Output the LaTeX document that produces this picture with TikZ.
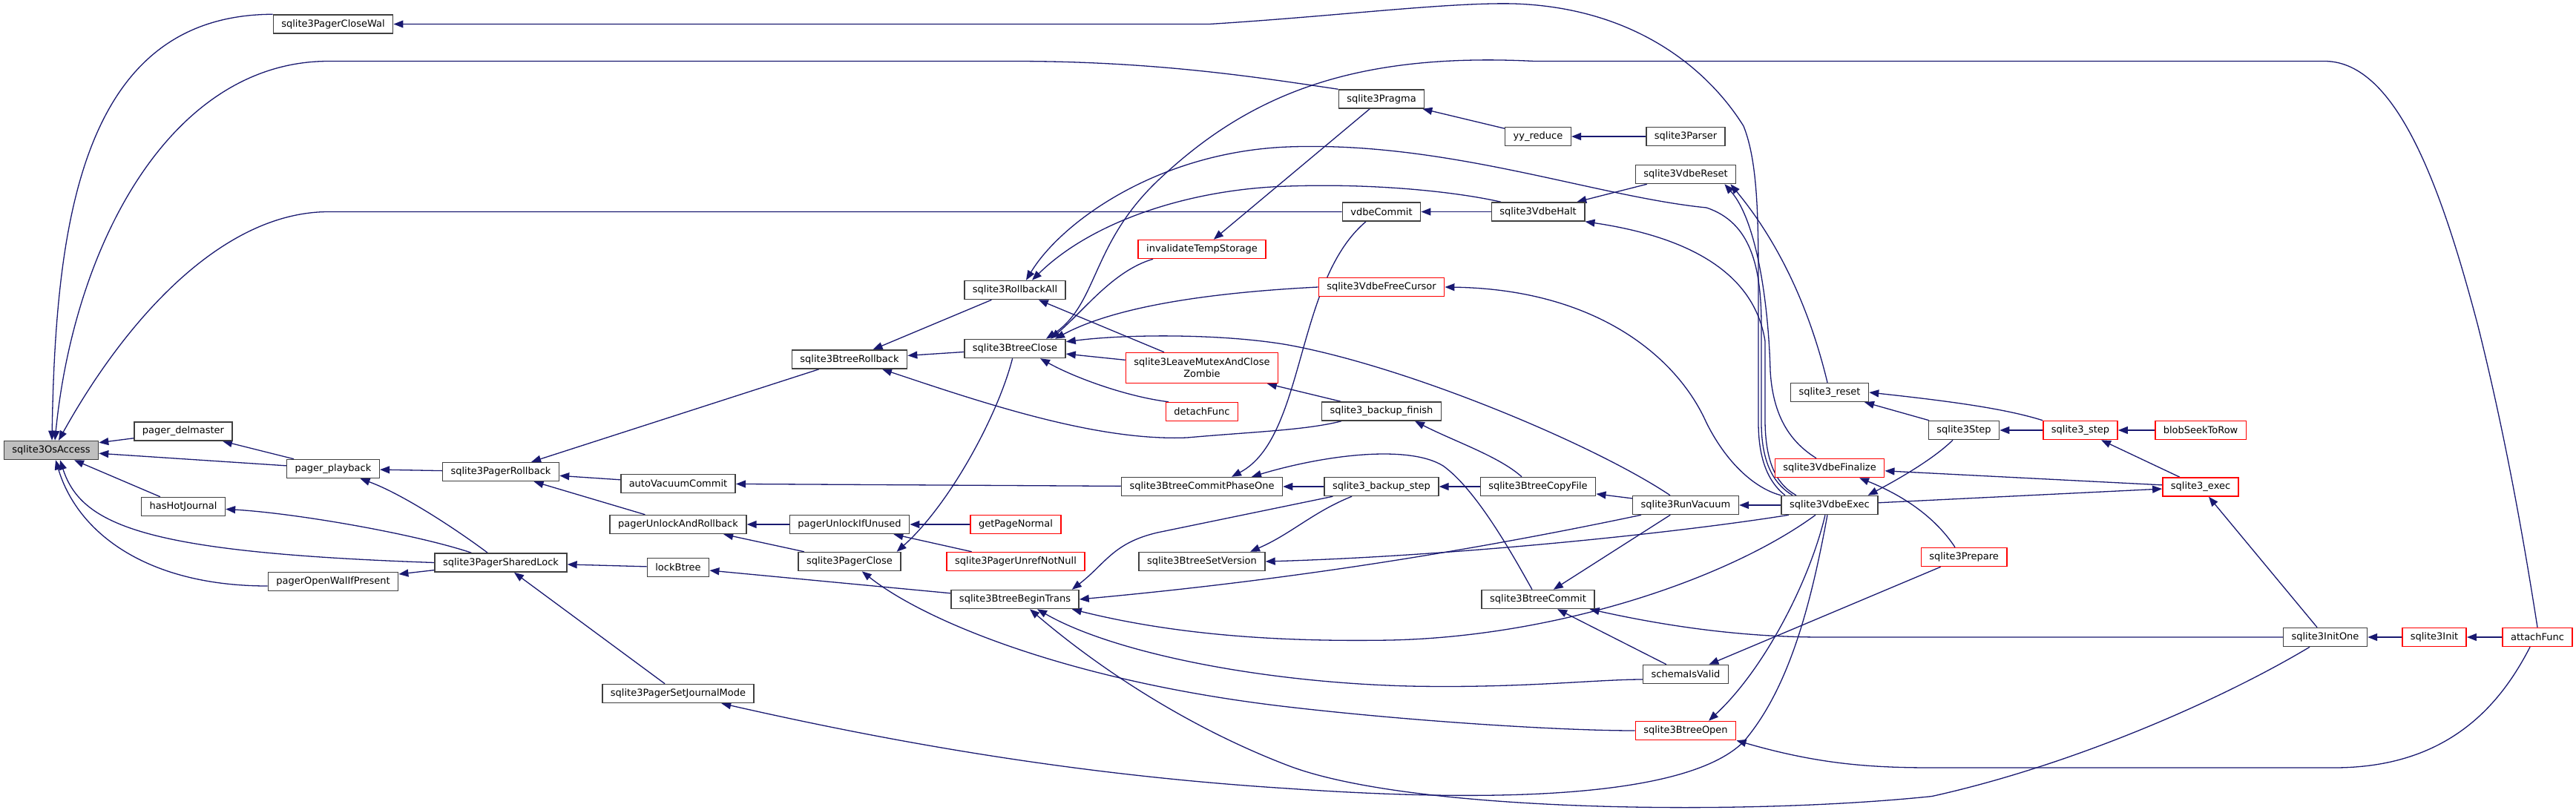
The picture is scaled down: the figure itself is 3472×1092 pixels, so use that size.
\documentclass[tikz,border=0pt]{standalone}
\usepackage{fontspec}
\setmainfont{DejaVu Sans}
\usetikzlibrary{arrows.meta,backgrounds}
\usepackage{xcolor}
\definecolor{edgeblue}{HTML}{191970}
\definecolor{rootgray}{HTML}{BFBFBF}

\begin{document}
\begin{tikzpicture}[x=1pt, y=-1pt]
  \tikzstyle{fn} = [rectangle, draw=black!75, line width=1.5pt, fill=white, minimum height=25pt, inner xsep=11pt, inner ysep=2pt, font=\fontsize{13}{16}\selectfont]
  \tikzstyle{fnred} = [fn, draw=red]
  \tikzstyle{root} = [fn, fill=rootgray]
  \tikzstyle{calls} = [draw=edgeblue, line width=1.3pt, {Triangle[length=13pt,width=10pt]}-]

  \useasboundingbox (0,0) rectangle (3472,1092);

  \node[root] (osaccess) at (69,607) {sqlite3OsAccess};
  \node[fn] (closewal) at (449,32.5) {sqlite3PagerCloseWal};
  \node[fn] (delmaster) at (247,581.5) {pager\_delmaster};
  \node[fn] (playback) at (449,632) {pager\_playback};
  \node[fn] (hothj) at (247,683) {hasHotJournal};
  \node[fn] (openwal) at (449,784) {pagerOpenWalIfPresent};
  \node[fn] (pgrollback) at (675,636) {sqlite3PagerRollback};
  \node[fn] (sharedlock) at (675,758.5) {sqlite3PagerSharedLock};
  \node[fn] (journalmode) at (914,935) {sqlite3PagerSetJournalMode};
  \node[fn] (autovac) at (914,652) {autoVacuumCommit};
  \node[fn] (unlockrb) at (914,707) {pagerUnlockAndRollback};
  \node[fn] (lockbtree) at (914,765) {lockBtree};
  \node[fn] (btrollback) at (1145,484.5) {sqlite3BtreeRollback};
  \node[fn] (unlockunused) at (1145,707) {pagerUnlockIfUnused};
  \node[fn] (pagerclose) at (1145,757) {sqlite3PagerClose};
  \node[fn] (rollbackall) at (1368,391) {sqlite3RollbackAll};
  \node[fn] (btclose) at (1368,470) {sqlite3BtreeClose};
  \node[fnred] (getpage) at (1369,707) {getPageNormal};
  \node[fnred] (unref) at (1369,757) {sqlite3PagerUnrefNotNull};
  \node[fn] (begintrans) at (1368,808) {sqlite3BtreeBeginTrans};
  \node[fnred] (invtemp) at (1620,336) {invalidateTempStorage};
  \node[fnred, minimum height=41pt, align=center] (zombie) at (1620,496) {sqlite3LeaveMutexAndClose\\Zombie};
  \node[fnred] (detach) at (1620,555) {detachFunc};
  \node[fn] (phaseone) at (1620,656) {sqlite3BtreeCommitPhaseOne};
  \node[fn] (setversion) at (1620,757) {sqlite3BtreeSetVersion};
  \node[fn] (pragma) at (1862,133.5) {sqlite3Pragma};
  \node[fn] (vdbecommit) at (1862,285.5) {vdbeCommit};
  \node[fnred] (freecursor) at (1862,387) {sqlite3VdbeFreeCursor};
  \node[fn] (bkfinish) at (1862,554.5) {sqlite3\_backup\_finish};
  \node[fn] (bkstep) at (1862,656) {sqlite3\_backup\_step};
  \node[fn] (yyreduce) at (2073,184) {yy\_reduce};
  \node[fn] (vdbehalt) at (2073,285.5) {sqlite3VdbeHalt};
  \node[fn] (copyfile) at (2073,656) {sqlite3BtreeCopyFile};
  \node[fn] (btcommit) at (2073,808) {sqlite3BtreeCommit};
  \node[fn] (parser) at (2272,184) {sqlite3Parser};
  \node[fn] (vdbereset) at (2272,235) {sqlite3VdbeReset};
  \node[fn] (runvacuum) at (2272,681) {sqlite3RunVacuum};
  \node[fn] (schemavalid) at (2272,909) {schemaIsValid};
  \node[fnred] (btopen) at (2272,985) {sqlite3BtreeOpen};
  \node[fn] (reset) at (2466,529) {sqlite3\_reset};
  \node[fnred] (finalize) at (2466,631) {sqlite3VdbeFinalize};
  \node[fn] (vdbeexec) at (2466,681) {sqlite3VdbeExec};
  \node[fn] (step3) at (2647,580) {sqlite3Step};
  \node[fnred] (prepare) at (2647,751) {sqlite3Prepare};
  \node[fnred] (step) at (2804,580) {sqlite3\_step};
  \node[fnred] (blobseek) at (2966,580) {blobSeekToRow};
  \node[fnred] (exec) at (2966,656.5) {sqlite3\_exec};
  \node[fn] (initone) at (3134,859) {sqlite3InitOne};
  \node[fnred] (init) at (3281,859) {sqlite3Init};
  \node[fnred] (attach) at (3420,859) {attachFunc};

  \begin{scope}[on background layer]
  \path[calls] ([xshift=1pt]osaccess.north) .. controls (75,300) and (110,20) .. (closewal.north west);
  \path[calls] ([xshift=5pt]osaccess.north) .. controls (100,330) and (230,82.5) .. (443,82.5) -- (1366,82.5) .. controls (1560,82.5) and (1700,105) .. (pragma.north west);
  \path[calls] ([xshift=10pt]osaccess.north) .. controls (170,430) and (300,285.5) .. (443,285.5) -- (vdbecommit.west);
  \path[calls] ([yshift=-3pt]osaccess.north east) -- ([yshift=4pt]delmaster.south west);
  \path[calls] (osaccess) -- (playback);
  \path[calls] (osaccess) -- (hothj);
  \path[calls] ([xshift=12pt]osaccess.south) .. controls (110,710) and (200,745) .. (sharedlock.west);
  \path[calls] ([xshift=6pt]osaccess.south) .. controls (105,720) and (200,790) .. ([yshift=-6pt]openwal.west);

  \path[calls] (delmaster) -- (playback);
  \path[calls] (playback) -- (pgrollback);
  \path[calls] (playback) .. controls (540,665) and (610,710) .. (sharedlock);
  \path[calls] (hothj) .. controls (400,692) and (560,720) .. (sharedlock);
  \path[calls] (openwal) -- (sharedlock);
  \path[calls] (pgrollback) -- (btrollback);
  \path[calls] (pgrollback) -- (autovac);
  \path[calls] (pgrollback) -- (unlockrb);
  \path[calls] (sharedlock) -- (lockbtree);
  \path[calls] (sharedlock) -- (journalmode);
  \path[calls] (autovac) -- (phaseone);
  \path[calls] (unlockrb) -- (unlockunused);
  \path[calls] (unlockrb) -- (pagerclose);
  \path[calls] (unlockunused) -- (getpage);
  \path[calls] (unlockunused) -- (unref);
  \path[calls] (lockbtree) -- (begintrans);
  \path[calls] ([xshift=-6pt]pagerclose.north east) .. controls (1280,680) and (1345,560) .. (btclose);
  \path[calls] (pagerclose) .. controls (1250,840) and (1450,920) .. (1736,953) .. controls (1900,972) and (2100,985) .. (btopen);
  \path[calls] (journalmode) .. controls (1200,1000) and (1450,1045) .. (1736,1063) .. controls (2050,1085) and (2280,1070) .. (2350,1000) .. controls (2410,930) and (2440,820) .. ([xshift=-3pt]vdbeexec.south);

  \path[calls] (btrollback) -- (rollbackall);
  \path[calls] (btrollback) -- (btclose);
  \path[calls] ([xshift=44pt]btrollback.south) .. controls (1330,545) and (1480,595) .. (1600,590) .. controls (1690,582) and (1760,580) .. ([xshift=-54pt]bkfinish.south);
  \path[calls] ([xshift=15pt]rollbackall.north) .. controls (1430,300) and (1560,205) .. (1736,198) .. controls (1950,190) and (2150,265) .. (2300,280) .. controls (2360,300) and (2374,360) .. (2374,440) -- (2374,570) .. controls (2374,630) and (2395,655) .. ([xshift=-50pt]vdbeexec.north);
  \path[calls] ([xshift=23pt]rollbackall.north) .. controls (1470,300) and (1600,255) .. (1736,251) .. controls (1850,247) and (1960,258) .. ([xshift=-50pt]vdbehalt.north);
  \path[calls] (rollbackall) -- (zombie);
  \path[calls] ([xshift=48pt]btclose.north) .. controls (1460,420) and (1500,365) .. ([xshift=-66pt]invtemp.south);
  \path[calls] ([xshift=42pt]btclose.north) .. controls (1480,410) and (1470,330) .. (1560,244) .. controls (1680,130) and (1820,70) .. (2068,82.5) -- (3135,82.5) .. controls (3230,85) and (3290,250) .. (3340,440) .. controls (3380,600) and (3405,750) .. (attach.north);
  \path[calls] ([xshift=54pt]btclose.north) .. controls (1500,415) and (1620,395) .. (freecursor.west);
  \path[calls] ([yshift=-4pt]btclose.north east) .. controls (1520,450) and (1650,450) .. (1736,465) .. controls (1900,495) and (2150,600) .. ([xshift=-21pt]runvacuum.north);
  \path[calls] (btclose) -- (zombie);
  \path[calls] ([xshift=34pt]btclose.south) .. controls (1450,510) and (1520,535) .. ([xshift=-45pt]detach.north);
  \path[calls] (invtemp) -- (pragma);
  \path[calls] (zombie) -- (bkfinish);

  \path[calls] (pragma) -- (yyreduce);
  \path[calls] (yyreduce) -- (parser);
  \path[calls] (vdbecommit) -- (vdbehalt);
  \path[calls] (vdbehalt) -- (vdbereset);
  \path[calls] (vdbehalt.south east) .. controls (2280,320) and (2365,370) .. (2379,460) -- (2379,570) .. controls (2380,630) and (2398,655) .. ([xshift=-45pt]vdbeexec.north);
  \path[calls] (closewal) -- (1630,32.5) .. controls (1800,22) and (1950,3) .. (2040,5) .. controls (2200,10) and (2300,90) .. (2350,170) .. controls (2370,220) and (2370,300) .. (2370,400) -- (2370,570) .. controls (2370,630) and (2390,655) .. ([xshift=-60pt]vdbeexec.north);
  \path[calls] ([xshift=-16pt]vdbereset.south east) .. controls (2370,300) and (2384,420) .. (2386,500) .. controls (2390,570) and (2420,600) .. ([xshift=-18pt]finalize.north);
  \path[calls] ([xshift=-8pt]vdbereset.south east) .. controls (2400,330) and (2440,420) .. ([xshift=-3pt]reset.north);
  \path[calls] (freecursor.east) .. controls (2150,390) and (2260,480) .. (2300,570) .. controls (2330,630) and (2370,660) .. (vdbeexec.north west);
  \path[calls] ([xshift=40pt]phaseone.north) .. controls (1760,590) and (1745,380) .. ([xshift=-21pt]vdbecommit.south);
  \path[calls] ([xshift=67pt]phaseone.north) .. controls (1790,612) and (1900,600) .. (1945,628) .. controls (1990,660) and (2040,750) .. ([xshift=-8pt]btcommit.north);
  \path[calls] (phaseone) -- (bkstep);
  \path[calls] ([xshift=-10pt]begintrans.north east) .. controls (1490,760) and (1500,732) .. (1560,718) -- ([xshift=12pt]bkstep.south west);
  \path[calls] ([xshift=65pt]setversion.north) .. controls (1740,720) and (1770,690) .. ([xshift=-40pt]bkstep.south);
  \path[calls] (setversion.east) .. controls (1950,750) and (2250,720) .. ([xshift=-55pt]vdbeexec.south);
  \path[calls] (begintrans.east) .. controls (1650,790) and (1900,760) .. ([xshift=-60pt]runvacuum.south);
  \path[calls] ([xshift=-10pt]begintrans.south east) .. controls (1600,860) and (1750,865) .. (1874,863) .. controls (2100,858) and (2330,780) .. ([xshift=-19pt]vdbeexec.south);
  \path[calls] ([xshift=30pt]begintrans.south) .. controls (1500,880) and (1700,920) .. (1900,925) .. controls (2050,928) and (2150,916) .. ([yshift=-7pt]schemavalid.west);
  \path[calls] ([xshift=20pt]begintrans.south) .. controls (1480,900) and (1600,980) .. (1736,1032) .. controls (1900,1095) and (2350,1100) .. (2604,1073.5) .. controls (2800,1030) and (3000,940) .. ([xshift=-21pt]initone.south);

  \path[calls] (bkstep) -- (copyfile);
  \path[calls] ([xshift=45pt]bkfinish.south) .. controls (1960,595) and (2020,615) .. ([xshift=-22pt]copyfile.north);
  \path[calls] (copyfile) -- (runvacuum);
  \path[calls] (runvacuum) -- (vdbeexec);
  \path[calls] (btcommit) -- (runvacuum);
  \path[calls] (btcommit) -- (schemavalid);
  \path[calls] ([xshift=-7pt]btcommit.south east) .. controls (2250,845) and (2350,859) .. (2456,859) -- (initone.west);
  \path[calls] (schemavalid) -- (prepare);
  \path[calls] ([xshift=31pt]btopen.north) .. controls (2380,900) and (2440,780) .. ([xshift=-6pt]vdbeexec.south);
  \path[calls] (btopen.south east) .. controls (2450,1030) and (2520,1035) .. (2604,1035) -- (3146,1035) .. controls (3300,1035) and (3370,950) .. ([xshift=-10pt]attach.south);

  \path[calls] (reset) -- (step3);
  \path[calls] (reset.east) .. controls (2620,540) and (2700,550) .. (step.north west);
  \path[calls] (step3) -- (step);
  \path[calls] ([xshift=-14pt]vdbeexec.north east) .. controls (2570,640) and (2610,615) .. ([xshift=-15pt]step3.south);
  \path[calls] (finalize) -- (exec);
  \path[calls] (exec) -- (vdbeexec);
  \path[calls] ([xshift=40pt]finalize.south) .. controls (2570,670) and (2610,700) .. ([xshift=-12pt]prepare.north);
  \path[calls] (step) -- (blobseek);
  \path[calls] (step) -- (exec);
  \path[calls] (exec) -- (initone);
  \path[calls] (initone) -- (init);
  \path[calls] (init) -- (attach);
  \end{scope}

\end{tikzpicture}
\end{document}
